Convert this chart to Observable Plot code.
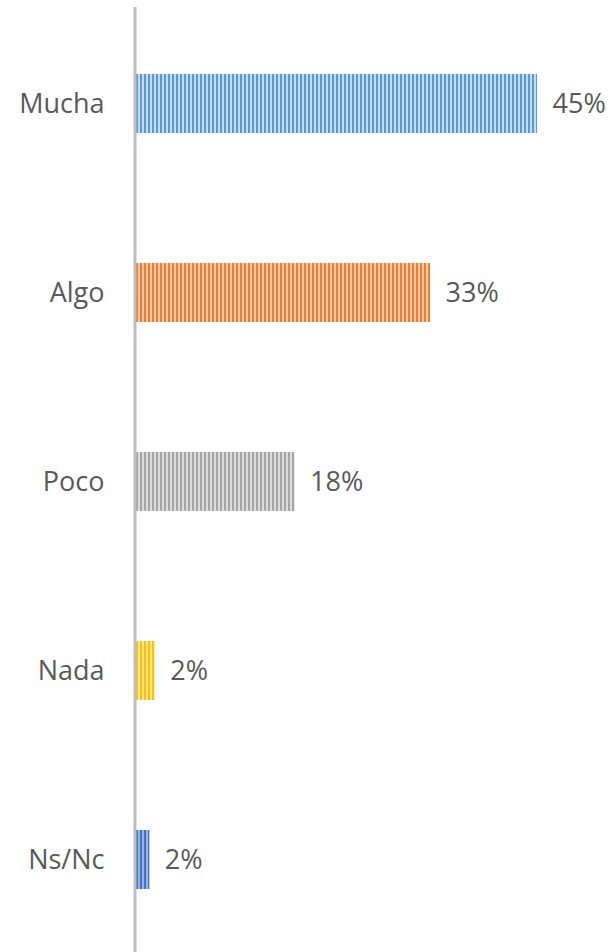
<!DOCTYPE html>
<html>
<head>
<meta charset="utf-8">
<script src="https://cdn.jsdelivr.net/npm/d3@7"></script>
<script src="https://cdn.jsdelivr.net/npm/@observablehq/plot@0.6"></script>
<style>
  html, body { margin: 0; padding: 0; background: #ffffff; }
  #chart svg { display: block; }
</style>
</head>
<body>
<div id="chart"></div>
<script>
const categories = ["Mucha", "Algo", "Poco", "Nada", "Ns/Nc"];
const values = [45, 33, 17.8, 2.1, 1.5];
const valueLabels = ["45%", "33%", "18%", "2%", "2%"];
const darkColors = ["#5b9bd5", "#ed7d31", "#a5a5a5", "#ffc000", "#4472c4"];
const lightColors = ["#c6dcf1", "#f8c9a9", "#dcdcdc", "#ffe594", "#9db4e2"];

const data = categories.map((c, i) => ({
  cat: c, value: values[i], label: valueLabels[i], pat: `url(#stripe${i})`
}));

const plot = Plot.plot({
  width: 610,
  height: 952,
  marginLeft: 136,
  marginRight: 73,
  marginTop: 7,
  marginBottom: 0,
  style: { fontFamily: "'Open Sans', sans-serif", background: "#ffffff" },
  x: { domain: [0, 45], axis: null },
  y: { domain: categories, range: [7, 955], paddingInner: 0.69, paddingOuter: 0.345, axis: null },
  color: { type: "identity" },
  marks: [
    Plot.barX(data, { x: "value", y: "cat", fill: "pat" }),
    Plot.ruleX([0], { stroke: "#bfbfbf", strokeWidth: 3, dx: -1.5 }),
    Plot.text(data, { x: 0, y: "cat", text: "cat", textAnchor: "end", dx: -32, fontSize: 27, fill: "#595959" }),
    Plot.text(data, { x: "value", y: "cat", text: "label", textAnchor: "start", dx: 15, fontSize: 27, fill: "#595959" })
  ]
});

// stripe patterns
const svg = d3.select(plot);
const defs = svg.insert("defs", ":first-child");
darkColors.forEach((c, i) => {
  const p = defs.append("pattern")
    .attr("id", `stripe${i}`)
    .attr("patternUnits", "userSpaceOnUse")
    .attr("width", 4).attr("height", 4);
  p.append("rect").attr("width", 4).attr("height", 4).attr("fill", lightColors[i]);
  p.append("rect").attr("width", 2).attr("height", 4).attr("fill", c);
});

document.getElementById("chart").appendChild(plot);
</script>
</body>
</html>
